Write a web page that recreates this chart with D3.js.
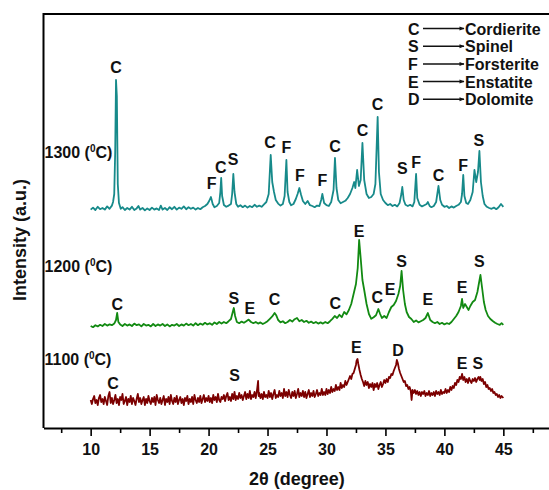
<!DOCTYPE html>
<html>
<head>
<meta charset="utf-8">
<script src="https://cdn.jsdelivr.net/npm/d3@7"></script>
<style>
	body { margin: 0; background: #fff; }
	text { font-family: "Liberation Sans", Arial, sans-serif; font-weight: bold; fill: #111; }
</style>
</head>
<body>
<svg id="chart" width="549" height="490"></svg>
<script>
// XRD patterns, [2theta, intensity above own baseline]
var series1300 = [[10.0,1.2],[10.2,2.2],[10.4,1.0],[10.6,2.6],[10.8,1.4],[11.0,2.0],[11.2,1.2],[11.4,2.8],[11.6,1.6],[11.8,3.2],[11.9,5],[12.0,9],[12.08,30],[12.15,66],[12.22,58],[12.3,14],[12.4,4.5],[12.55,1.6],[12.7,2.4],[12.9,1.0],[13.1,2.0],[13.3,1.2],[13.5,2.6],[13.7,1.0],[13.9,1.8],[14.05,3.0],[14.2,1.2],[14.4,2.0],[14.6,0.8],[14.8,1.8],[15.0,1.0],[15.2,2.2],[15.4,1.2],[15.6,1.8],[15.8,1.0],[15.95,3.2],[16.1,1.2],[16.3,2.0],[16.5,1.0],[16.7,2.4],[16.9,1.4],[17.1,2.6],[17.3,1.2],[17.5,2.2],[17.7,1.6],[17.9,2.8],[18.1,1.4],[18.3,2.4],[18.5,1.6],[18.7,2.2],[18.9,1.2],[19.1,2.0],[19.3,1.4],[19.5,2.4],[19.7,3.0],[19.9,4.0],[20.05,5.5],[20.2,7.5],[20.35,4.0],[20.5,2.4],[20.7,3.0],[20.9,4.5],[21.0,10],[21.07,17],[21.15,8],[21.3,3.5],[21.5,2.6],[21.7,3.2],[21.9,4.0],[22.0,9],[22.1,19],[22.2,10],[22.35,4.0],[22.5,2.6],[22.7,3.4],[22.9,2.4],[23.1,3.2],[23.3,2.2],[23.5,3.0],[23.7,2.4],[23.9,3.6],[24.1,2.6],[24.3,3.2],[24.5,2.6],[24.7,3.8],[24.9,5.0],[25.1,9],[25.27,28.5],[25.4,15],[25.55,10],[25.7,6],[25.9,4.2],[26.1,3.2],[26.3,4.0],[26.45,8],[26.6,26],[26.7,10],[26.85,5],[27.0,3.4],[27.2,4.0],[27.4,6.5],[27.55,9],[27.7,12],[27.85,8.5],[28.0,5.5],[28.2,4.0],[28.4,5.5],[28.6,3.4],[28.8,3.0],[29.0,2.4],[29.2,3.2],[29.4,3.0],[29.55,6],[29.65,9],[29.8,4.5],[30.0,3.4],[30.2,3.0],[30.4,5.0],[30.6,11],[30.72,27],[30.85,12],[31.0,6.0],[31.2,4.4],[31.4,5.0],[31.6,5.6],[31.8,7.0],[32.0,9.0],[32.2,12],[32.35,15],[32.45,12],[32.6,21],[32.75,13],[32.9,16],[33.05,34.5],[33.2,16],[33.4,9],[33.6,7],[33.8,7.5],[34.0,9],[34.15,14],[34.34,47.5],[34.45,20],[34.6,9],[34.8,6.0],[35.0,4.5],[35.2,3.4],[35.4,4.0],[35.6,3.0],[35.8,3.6],[36.0,2.8],[36.2,4.5],[36.35,9],[36.43,12.5],[36.55,6],[36.7,3.6],[36.9,3.0],[37.1,3.6],[37.3,2.8],[37.45,5],[37.6,19],[37.7,7],[37.9,3.6],[38.1,2.8],[38.3,3.4],[38.5,4.0],[38.6,5.0],[38.75,3.0],[38.9,2.4],[39.1,3.0],[39.3,5.0],[39.5,13],[39.65,6],[39.8,3.6],[40.0,2.6],[40.2,3.0],[40.4,2.0],[40.6,2.8],[40.8,2.2],[41.0,3.0],[41.2,3.6],[41.4,5.0],[41.5,9],[41.6,18.5],[41.7,8],[41.85,4.5],[42.0,4.0],[42.2,6.0],[42.4,10],[42.55,21],[42.7,15],[42.85,20],[42.97,30.5],[43.1,15],[43.25,8],[43.4,4.0],[43.6,2.6],[43.8,2.0],[44.0,1.6],[44.2,2.2],[44.4,1.4],[44.6,2.4],[44.8,4.0],[45.0,2.6]];

var series1200 = [[10.0,1.0],[10.2,0.4],[10.4,1.4],[10.6,0.8],[10.8,1.6],[11.0,1.0],[11.2,2.0],[11.4,1.2],[11.6,1.8],[11.8,1.4],[12.0,2.2],[12.15,4],[12.25,7.5],[12.35,3],[12.5,1.8],[12.7,1.0],[12.9,2.0],[13.1,1.2],[13.3,1.8],[13.5,1.0],[13.7,2.2],[13.9,1.4],[14.1,1.8],[14.3,0.8],[14.5,2.0],[14.7,1.2],[14.9,1.6],[15.1,0.8],[15.3,2.0],[15.5,1.0],[15.7,1.8],[15.9,1.2],[16.1,2.0],[16.3,1.0],[16.5,1.8],[16.7,0.8],[16.9,1.6],[17.1,1.2],[17.3,2.0],[17.5,1.0],[17.7,1.8],[17.9,1.2],[18.1,2.2],[18.3,1.4],[18.5,2.0],[18.7,1.2],[18.9,2.4],[19.1,1.4],[19.3,2.2],[19.5,1.6],[19.7,2.6],[19.9,1.8],[20.1,2.4],[20.3,1.6],[20.5,2.8],[20.7,2.0],[20.9,3.0],[21.1,2.2],[21.3,3.0],[21.5,2.4],[21.7,3.4],[21.9,4.5],[22.05,8],[22.14,10],[22.25,6],[22.4,3],[22.6,2.4],[22.8,3.2],[23.0,2.6],[23.2,3.4],[23.4,4.2],[23.6,3.0],[23.8,2.4],[24.0,3.0],[24.2,2.2],[24.4,2.8],[24.6,2.0],[24.8,2.6],[25.0,3.4],[25.2,4.6],[25.4,5.8],[25.6,7.5],[25.75,6.2],[25.9,4.0],[26.1,2.8],[26.3,3.4],[26.5,2.4],[26.7,3.0],[26.9,4.0],[27.1,3.2],[27.3,4.4],[27.5,5.0],[27.7,3.4],[27.9,4.0],[28.1,3.0],[28.3,3.6],[28.5,2.6],[28.7,3.2],[28.9,2.4],[29.1,3.0],[29.3,2.2],[29.5,2.8],[29.7,2.2],[29.9,3.0],[30.1,2.4],[30.3,3.4],[30.5,4.6],[30.7,6.0],[30.9,5.0],[31.1,6.6],[31.3,5.4],[31.5,8.0],[31.7,6.8],[31.9,9.0],[32.1,12],[32.3,17],[32.5,22],[32.65,30],[32.77,44],[32.9,35],[33.05,24],[33.2,19],[33.4,12],[33.6,7],[33.8,4.6],[34.0,5.4],[34.2,6.4],[34.4,9.5],[34.55,7.0],[34.7,5.0],[34.9,6.0],[35.1,5.0],[35.3,8.0],[35.5,10.5],[35.7,11.5],[35.9,13.5],[36.1,17],[36.25,21],[36.37,28.5],[36.5,19],[36.65,12],[36.8,8],[37.0,5.5],[37.2,4.5],[37.4,3.0],[37.6,3.8],[37.8,2.8],[38.0,3.4],[38.2,4.0],[38.4,5.0],[38.6,7.5],[38.8,4.0],[39.0,3.0],[39.2,2.4],[39.4,3.0],[39.6,2.0],[39.8,2.6],[40.0,1.8],[40.2,2.4],[40.4,2.0],[40.6,3.0],[40.8,4.5],[41.0,6.0],[41.2,8.0],[41.4,11],[41.5,14.5],[41.6,10],[41.75,12],[41.9,10.5],[42.05,9.0],[42.2,11],[42.4,13],[42.6,14],[42.8,18],[42.95,23],[43.06,26.5],[43.2,20],[43.35,13],[43.5,9],[43.7,6],[43.9,4.5],[44.1,3.5],[44.3,2.6],[44.5,2.0],[44.7,1.6],[44.85,2.4],[45.0,1.6]];

var series1100 = [[10.0,0.5],[10.1,-1.5],[10.2,1.0],[10.3,2.5],[10.4,-1.0],[10.5,0.5],[10.6,-2.0],[10.7,1.5],[10.8,3.0],[10.9,-0.5],[11.0,1.0],[11.1,-1.5],[11.2,2.0],[11.3,0.0],[11.4,-2.0],[11.5,2.5],[11.6,4.5],[11.7,-1.0],[11.8,1.5],[11.9,-1.5],[12.0,0.5],[12.1,3.0],[12.2,-1.0],[12.3,1.0],[12.4,-2.0],[12.5,2.0],[12.6,0.5],[12.7,3.5],[12.8,-1.5],[12.9,0.0],[13.0,2.0],[13.1,-2.0],[13.2,1.0],[13.3,-0.5],[13.4,2.5],[13.5,-1.5],[13.6,1.5],[13.7,0.0],[13.8,-2.0],[13.9,1.0],[14.0,3.5],[14.1,-0.5],[14.2,1.5],[14.3,-1.5],[14.4,0.5],[14.5,2.0],[14.6,-2.0],[14.7,1.0],[14.8,-1.0],[14.9,2.5],[15.0,0.0],[15.1,-1.5],[15.2,1.5],[15.3,-0.5],[15.4,2.0],[15.5,-2.0],[15.6,3.0],[15.7,0.5],[15.8,-1.0],[15.9,1.5],[16.0,-1.5],[16.1,0.5],[16.2,2.5],[16.3,-2.0],[16.4,1.0],[16.5,-0.5],[16.6,2.0],[16.7,-1.5],[16.8,3.0],[16.9,0.0],[17.0,-1.5],[17.1,1.5],[17.2,-0.5],[17.3,2.5],[17.4,-1.5],[17.5,0.5],[17.6,2.0],[17.7,-1.0],[17.8,1.0],[17.9,-2.0],[18.0,1.5],[18.1,0.0],[18.2,2.5],[18.3,-1.5],[18.4,1.0],[18.5,-0.5],[18.6,2.0],[18.7,-1.5],[18.8,3.0],[18.9,0.5],[19.0,-1.0],[19.1,1.5],[19.2,-0.5],[19.3,2.5],[19.4,-1.0],[19.5,1.0],[19.6,3.0],[19.7,-0.5],[19.8,1.5],[19.9,0.0],[20.0,2.5],[20.1,-0.5],[20.2,1.5],[20.3,-1.0],[20.4,3.0],[20.5,0.5],[20.6,2.0],[20.7,-0.5],[20.8,3.5],[20.9,0.5],[21.0,-0.5],[21.1,2.0],[21.2,1.0],[21.3,3.0],[21.4,0.0],[21.5,2.5],[21.6,4.0],[21.7,0.5],[21.8,2.0],[21.9,0.0],[22.0,3.5],[22.1,1.0],[22.2,4.5],[22.3,0.5],[22.4,2.5],[22.5,1.0],[22.6,4.0],[22.7,1.5],[22.8,3.0],[22.9,0.5],[23.0,2.5],[23.1,4.5],[23.2,1.0],[23.3,3.5],[23.4,1.5],[23.5,5.0],[23.6,1.0],[23.7,3.0],[23.8,2.0],[23.9,4.5],[24.0,1.5],[24.1,5.0],[24.2,10.0],[24.25,2.5],[24.3,4.0],[24.4,1.5],[24.5,3.5],[24.6,1.0],[24.7,4.5],[24.8,2.0],[24.9,3.0],[25.0,1.5],[25.1,5.0],[25.2,2.0],[25.3,4.0],[25.4,1.0],[25.5,3.5],[25.6,5.5],[25.7,1.5],[25.8,3.0],[25.9,2.0],[26.0,5.0],[26.1,2.5],[26.2,4.0],[26.3,1.5],[26.4,6.0],[26.5,2.5],[26.6,4.5],[26.7,2.0],[26.8,5.5],[26.9,3.0],[27.0,1.5],[27.1,4.5],[27.2,2.5],[27.3,5.0],[27.4,1.5],[27.5,3.5],[27.6,6.0],[27.7,2.0],[27.8,4.0],[27.9,2.5],[28.0,5.0],[28.1,2.0],[28.2,4.5],[28.3,1.5],[28.4,3.5],[28.5,5.5],[28.6,2.0],[28.7,4.0],[28.8,2.5],[28.9,5.0],[29.0,2.0],[29.1,3.5],[29.2,5.5],[29.3,2.5],[29.4,4.0],[29.5,3.0],[29.6,6.0],[29.7,3.0],[29.8,4.5],[29.9,3.0],[30.0,6.0],[30.1,3.5],[30.2,5.5],[30.3,4.0],[30.4,7.0],[30.5,4.5],[30.6,6.0],[30.7,5.0],[30.8,8.0],[30.9,5.5],[31.0,7.0],[31.1,5.5],[31.2,9.0],[31.3,6.5],[31.4,8.0],[31.5,7.0],[31.6,10.0],[31.7,8.0],[31.8,9.5],[31.9,11.0],[32.0,12.5],[32.1,11.0],[32.2,13.5],[32.3,14.0],[32.4,16.0],[32.5,18.0],[32.55,20.0],[32.63,21.0],[32.7,18.5],[32.8,15.5],[32.9,13.0],[33.0,11.0],[33.1,9.5],[33.2,7.5],[33.3,10.0],[33.4,8.0],[33.5,9.5],[33.6,6.5],[33.7,8.5],[33.8,7.0],[33.9,9.0],[34.0,5.5],[34.1,8.5],[34.2,7.0],[34.3,9.0],[34.4,6.0],[34.5,8.0],[34.6,9.5],[34.7,7.0],[34.8,8.5],[34.9,10.5],[35.0,9.0],[35.1,11.0],[35.2,9.5],[35.3,12.0],[35.4,11.5],[35.5,13.5],[35.6,13.0],[35.7,15.0],[35.8,16.5],[35.9,18.0],[35.97,20.5],[36.05,19.0],[36.15,16.0],[36.25,14.0],[36.35,12.5],[36.45,11.0],[36.55,9.5],[36.65,10.0],[36.75,7.5],[36.85,8.0],[36.95,6.0],[37.05,7.0],[37.15,5.0],[37.22,0.5],[37.3,5.5],[37.4,4.0],[37.5,5.5],[37.6,3.5],[37.7,5.0],[37.8,3.0],[37.9,4.5],[38.0,2.5],[38.1,4.5],[38.2,3.5],[38.3,5.0],[38.4,2.5],[38.5,4.0],[38.6,3.0],[38.7,5.0],[38.8,2.5],[38.9,4.0],[39.0,3.0],[39.1,4.5],[39.2,2.5],[39.3,5.0],[39.4,3.5],[39.5,4.5],[39.6,3.0],[39.7,5.5],[39.8,3.5],[39.9,4.5],[40.0,4.0],[40.1,6.0],[40.2,4.0],[40.3,5.5],[40.4,4.5],[40.5,7.0],[40.6,5.5],[40.7,7.5],[40.8,6.5],[40.9,9.0],[41.0,8.0],[41.1,10.5],[41.2,9.5],[41.3,12.0],[41.4,11.0],[41.5,13.5],[41.6,10.5],[41.7,12.0],[41.8,9.5],[41.9,11.0],[42.0,9.0],[42.1,11.5],[42.2,10.0],[42.3,9.0],[42.4,11.0],[42.5,10.0],[42.6,11.5],[42.7,9.5],[42.8,11.0],[42.9,12.0],[43.0,10.5],[43.05,12.0],[43.15,10.0],[43.25,11.0],[43.35,8.5],[43.45,9.5],[43.55,7.0],[43.65,8.0],[43.75,6.0],[43.85,6.5],[43.95,5.0],[44.05,6.0],[44.15,4.0],[44.25,4.5],[44.35,3.0],[44.45,3.5],[44.55,2.0],[44.65,3.0],[44.75,1.5],[44.85,2.5],[45.0,1.5]];

// vertical stacking offset of each pattern
var temperatures = ["1300", "1200", "1100"];
var offsets = [108, 50, 13.5];
var labelLevels = [30, 31, 21];

// phase labels: [letter, 2theta, height above baseline]
var peaks1300 = [["C",12.15,72.5],["F",20.25,14.5],["C",21.03,22.5],["S",22.08,26.5],["C",25.22,35],["F",26.6,32.5],["F",27.75,18.5],["F",29.65,16],["C",30.72,33],["C",33.05,41],["C",34.34,54],["S",36.43,22],["F",37.6,25],["C",39.5,18.5],["F",41.6,23.5],["S",42.92,36]];
var peaks1200 = [["C",12.25,12],["S",22.14,15],["E",23.5,10],["C",25.6,14.5],["C",30.75,12.7],["E",32.77,48.7],["C",34.3,15.7],["E",35.4,19.5],["S",36.37,33.7],["E",38.6,14.5],["E",41.5,20.5],["S",42.97,33.7]];
var peaks1100 = [["C",11.9,9.2],["S",22.2,13],["E",32.53,27],["D",36.07,25.5],["E",41.5,19.2],["S",42.83,19.2]];

var legendKeys = ["C", "S", "F", "E", "D"];
var legendNames = ["Cordierite", "Spinel", "Forsterite", "Enstatite", "Dolomite"];

var majorTicks = [10, 15, 20, 25, 30, 35, 40, 45];
var minorTicks = [7.5, 12.5, 17.5, 22.5, 27.5, 32.5, 37.5, 42.5, 47.5];

var colors = ["#178a8a", "#128a12", "#7c0000"];

var allSeries = [series1300, series1200, series1100];
var allPeaks = [peaks1300, peaks1200, peaks1100];

var svg = d3.select("#chart");

var x = d3.scaleLinear().domain([6, 49]).range([43.5, 550.5]);
var y = d3.scaleLinear().domain([0, 207]).range([428, 14]);

// frame: top and left lines
svg.append("line")
	.attr("x1", x(6)).attr("x2", 549)
	.attr("y1", y(207)).attr("y2", y(207))
	.attr("stroke", "#000").attr("stroke-width", 2);
svg.append("line")
	.attr("x1", x(6)).attr("x2", x(6))
	.attr("y1", y(207) - 1).attr("y2", y(0))
	.attr("stroke", "#000").attr("stroke-width", 2);

// minor ticks
svg.append("g")
	.attr("transform", "translate(0," + y(0) + ")")
	.call(d3.axisBottom(x).tickValues(minorTicks).tickSize(5).tickFormat(""))
	.call(function(g) { g.select(".domain").remove(); })
	.selectAll("line").attr("stroke-width", 1.6);

// x axis
var xAxis = svg.append("g")
	.attr("transform", "translate(0," + y(0) + ")")
	.call(d3.axisBottom(x).tickValues(majorTicks).tickSize(8).tickSizeOuter(0).tickPadding(8));
xAxis.select(".domain").attr("stroke-width", 2);
xAxis.selectAll("line").attr("stroke-width", 1.6);
xAxis.selectAll("text")
	.style("font-size", "16px")
	.style("font-family", "'Liberation Sans', Arial, sans-serif")
	.style("font-weight", "bold")
	.attr("fill", "#111");

// axis titles
svg.append("text")
	.attr("x", 297).attr("y", 485)
	.attr("text-anchor", "middle")
	.style("font-size", "18px")
	.text("2\u03b8 (degree)");

svg.append("text")
	.attr("transform", "translate(26,240) rotate(-90)")
	.attr("text-anchor", "middle")
	.style("font-size", "18px")
	.text("Intensity (a.u.)");

// patterns
var line = d3.line();
allSeries.forEach(function(s, i) {
	line.x(function(d) { return x(d[0]); })
		.y(function(d) { return y(d[1] + offsets[i]); });
	svg.append("path")
		.datum(s)
		.attr("d", line)
		.attr("fill", "none")
		.attr("stroke", colors[i])
		.attr("stroke-width", 1.8)
		.attr("stroke-linejoin", "round");

	// peak letters
	svg.selectAll(".peak" + i)
		.data(allPeaks[i])
		.enter().append("text")
			.attr("class", "peak" + i)
			.attr("x", function(d) { return x(d[1]); })
			.attr("y", function(d) { return y(d[2] + offsets[i]) + 6; })
			.attr("text-anchor", "middle")
			.style("font-size", "16px")
			.text(function(d) { return d[0]; });

	// temperature label with superscript 0
	var t = svg.append("text")
		.attr("x", x(6) + 1)
		.attr("y", y(labelLevels[i] + offsets[i]) + 6)
		.style("font-size", "16px");
	t.append("tspan").text(temperatures[i] + " (");
	t.append("tspan").attr("dy", -6).style("font-size", "10px").text("0");
	t.append("tspan").attr("dy", 6).text("C)");
});

// legend
var arrowDefs = svg.append("defs").append("marker")
	.attr("id", "head")
	.attr("viewBox", "0 0 10 10")
	.attr("refX", 9).attr("refY", 5)
	.attr("markerWidth", 7).attr("markerHeight", 5)
	.attr("markerUnits", "userSpaceOnUse")
	.attr("orient", "auto");
arrowDefs.append("path").attr("d", "M0,1 L10,5 L0,9 Z").attr("fill", "#111");

var legend = svg.selectAll(".legend")
	.data(legendKeys)
	.enter().append("g")
		.attr("class", "legend")
		.attr("transform", function(d, i) { return "translate(0," + (28.5 + i * 17.7) + ")"; });

legend.append("text")
	.attr("x", 408)
	.attr("y", 6)
	.style("font-size", "16px")
	.text(function(d) { return d; });

legend.append("line")
	.attr("x1", 423).attr("x2", 464)
	.attr("y1", 0).attr("y2", 0)
	.attr("stroke", "#111").attr("stroke-width", 1.5)
	.attr("marker-end", "url(#head)");

legend.append("text")
	.attr("x", 465)
	.attr("y", 6)
	.style("font-size", "16px")
	.text(function(d, i) { return legendNames[i]; });
</script>
</body>
</html>
